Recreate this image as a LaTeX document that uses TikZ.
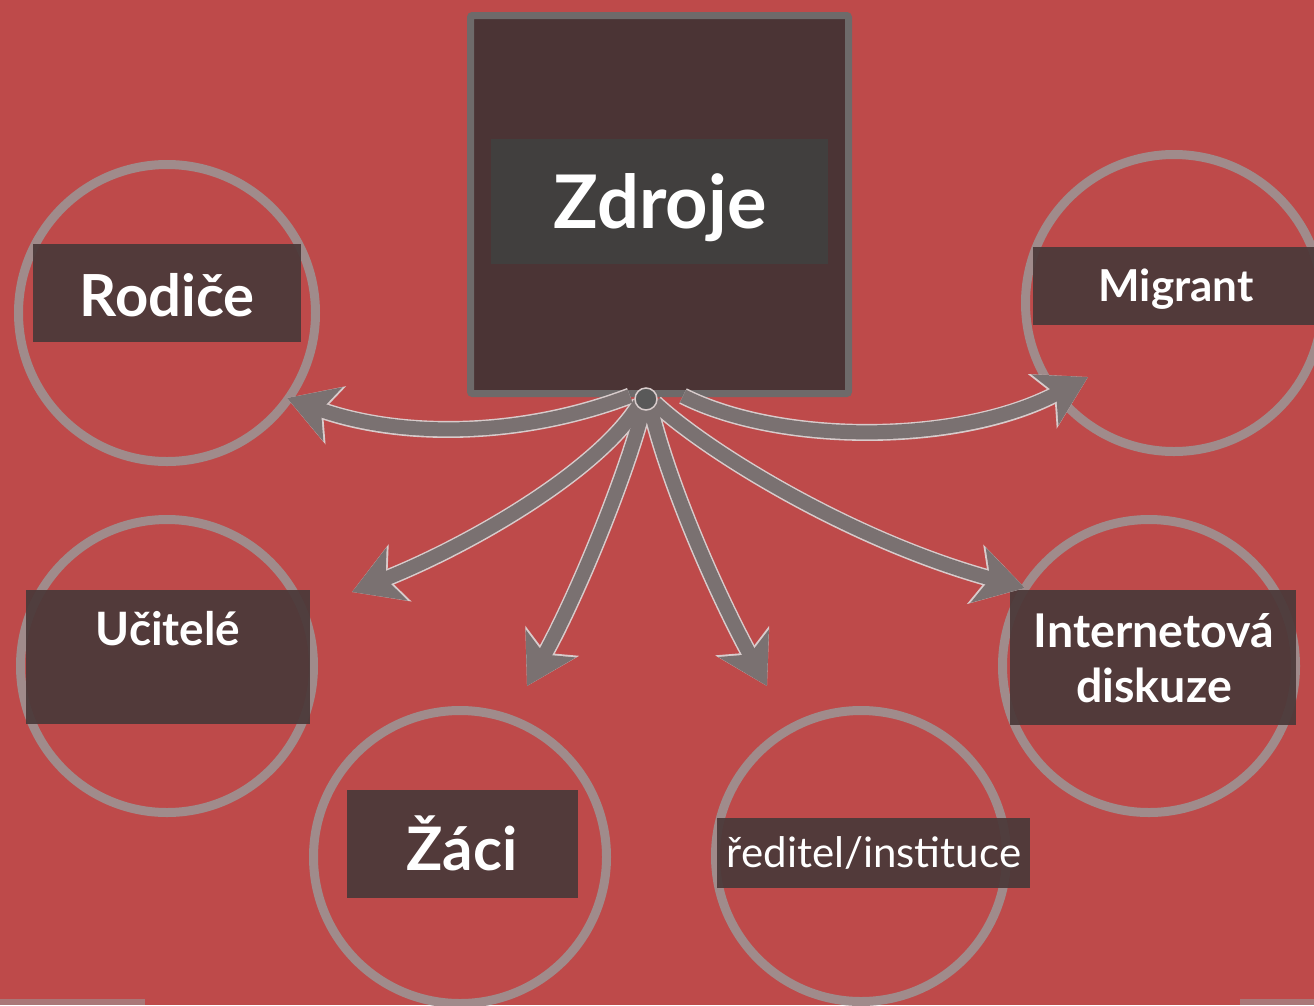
\documentclass[tikz,border=0pt]{standalone}
\usepackage{fontspec}
\setmainfont{Lato}
\usetikzlibrary{arrows.meta}
\definecolor{bgred}{HTML}{BE4A4A}
\definecolor{ringcol}{HTML}{A08B8B}
\definecolor{labelbg}{HTML}{4A3939}
\definecolor{boxfill}{HTML}{4B3435}
\definecolor{boxline}{HTML}{6E6A6A}
\definecolor{titlebg}{HTML}{413F3E}
\definecolor{arrowcol}{HTML}{7A7171}
\definecolor{arrowedge}{HTML}{D8CCCC}
\definecolor{hubcol}{HTML}{595959}
\tikzset{
  ring/.style={draw=ringcol, line width=9pt, fill=none},
  labelbox/.style={fill=labelbg, fill opacity=0.93, draw=none},
  lbl/.style={text=white, align=center, inner sep=0pt},
  arrowout/.style={draw=arrowedge, line width=17pt, -{Stealth[length=51pt,width=60pt,inset=13pt]}},
  arrowin/.style={draw=arrowcol, line width=14pt, -{Stealth[length=48pt,width=56pt,inset=12pt]}},
}
\begin{document}
\begin{tikzpicture}[x=1pt,y=-1pt]
\useasboundingbox (0,0) rectangle (1314,1005);
\fill[bgred] (0,0) rectangle (1314,1005);
\fill[ringcol!70!bgred] (0,999) rectangle (145,1005);
\fill[ringcol!70!bgred] (1240,999) rectangle (1314,1005);

% circles
\node[ring, circle, minimum size=297pt] (crod) at (167,313) {};
\node[ring, circle, minimum size=293pt] (cuci) at (167,666) {};
\node[ring, circle, minimum size=293pt] (czac) at (460,857) {};
\node[ring, circle, minimum size=291pt] (cred) at (861,856) {};
\node[ring, circle, minimum size=293pt] (cint) at (1149,666) {};
\node[ring, circle, minimum size=297pt] (cmig) at (1174,303) {};

% label boxes
\fill[labelbox] (33,244) rectangle (301,342);
\fill[labelbox] (26,590) rectangle (310,724);
\fill[labelbox] (347,790) rectangle (578,898);
\fill[labelbox] (717,818) rectangle (1030,888);
\fill[labelbox] (1010,590) rectangle (1296,725);
\fill[labelbox] (1033,247) rectangle (1314,325);

\node[lbl, font=\bfseries\fontsize{58}{60}\selectfont] (trod) at (167,295) {Rodiče};
\node[lbl, font=\bfseries\fontsize{46}{48}\selectfont] (tuci) at (168,629) {Učitelé};
\node[lbl, font=\bfseries\fontsize{60}{62}\selectfont] (tzac) at (462,843) {Žáci};
\node[lbl, font=\fontsize{42}{44}\selectfont] (tred) at (874,853) {ředitel/instituce};
\node[lbl, font=\bfseries\fontsize{46.5}{55}\selectfont] (tint) at (1154,658) {Internetová\\diskuze};
\node[lbl, font=\bfseries\fontsize{44}{46}\selectfont] (tmig) at (1176,289) {Migrant};

% central box
\draw[draw=boxline, line width=7pt, fill=boxfill, rounded corners=2pt] (470.5,15.5) rectangle (848.5,393.5);
\fill[titlebg] (491,139) rectangle (828,264);
\node[lbl, font=\bfseries\fontsize{74}{76}\selectfont] (tzdr) at (660,208) {Zdroje};

% hub and connector ends
\coordinate (hub) at (646,399);
\coordinate (srod) at (630,396);
\coordinate (suci) at (640,403);
\coordinate (szac) at (644,406);
\coordinate (sred) at (650,406);
\coordinate (sint) at (655,403);
\coordinate (smig) at (683,396);
\coordinate (erod) at (287,398);
\coordinate (euci) at (352,592);
\coordinate (ezac) at (527,686);
\coordinate (ered) at (767,686);
\coordinate (eint) at (1025,588);
\coordinate (emig) at (1088,377);

\foreach \st in {arrowout,arrowin}{
  \draw[\st] (srod) .. controls (520,438) and (400,438) .. (erod);
  \draw[\st] (suci) .. controls (600,470) and (470,545) .. (euci);
  \draw[\st] (szac) .. controls (625,480) and (575,600) .. (ezac);
  \draw[\st] (sred) .. controls (670,490) and (720,600) .. (ered);
  \draw[\st] (sint) .. controls (705,450) and (850,540) .. (eint);
  \draw[\st] (smig) .. controls (780,445) and (960,445) .. (emig);
}
\node[circle, fill=hubcol, draw=arrowedge, line width=1.5pt, minimum size=22pt, inner sep=0pt] (hubn) at (hub) {};
\end{tikzpicture}
\end{document}
